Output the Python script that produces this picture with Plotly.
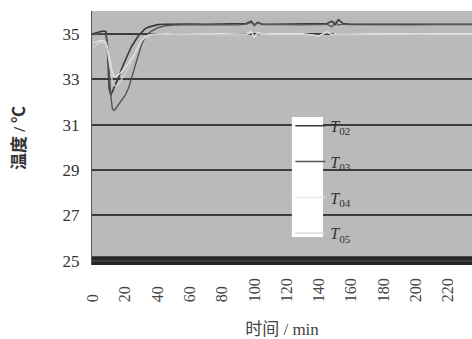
import plotly.graph_objects as go

# time in minutes
t = [0, 2, 4, 6, 8, 9, 10, 11, 12, 13, 14, 16, 18, 20, 22, 24, 26, 28, 30, 32, 34, 36, 38, 40,
     45, 50, 60, 70, 80, 90, 95, 98, 100, 102, 105, 110, 120, 130, 140, 145, 148, 150, 152, 155,
     160, 170, 180, 190, 200, 210, 220, 230, 236]

T02 = [35.0, 35.05, 35.1, 35.12, 35.1, 34.3, 32.6, 32.3, 32.45, 32.6, 32.8, 33.1, 33.5, 33.85,
       34.15, 34.45, 34.7, 34.9, 35.05, 35.2, 35.28, 35.33, 35.37, 35.4,
       35.42, 35.43, 35.43, 35.42, 35.42, 35.42, 35.45, 35.55, 35.38, 35.5, 35.42, 35.42, 35.43,
       35.42, 35.43, 35.45, 35.55, 35.4, 35.62, 35.45, 35.42, 35.42, 35.42, 35.41, 35.42, 35.42,
       35.41, 35.42, 35.42]
T03 = [34.95, 35.0, 35.02, 35.0, 34.95, 34.6, 33.4, 32.3, 31.7, 31.62, 31.7, 31.9, 32.1, 32.3,
       32.6, 33.1, 33.6, 34.1, 34.5, 34.8, 35.0, 35.1, 35.2, 35.26,
       35.35, 35.38, 35.4, 35.39, 35.4, 35.39, 35.42, 35.5, 35.36, 35.48, 35.4, 35.39, 35.4,
       35.39, 35.4, 35.42, 35.3, 35.5, 35.38, 35.42, 35.4, 35.39, 35.4, 35.4, 35.39, 35.4,
       35.4, 35.39, 35.4]
T04 = [34.6, 34.65, 34.68, 34.7, 34.65, 34.4, 34.0, 33.6, 33.3, 33.12, 33.1, 33.2, 33.35, 33.5,
       33.7, 33.9, 34.15, 34.45, 34.7, 34.85, 34.93, 34.97, 34.98, 35.0,
       35.0, 34.99, 35.0, 34.99, 35.0, 34.99, 34.98, 35.1, 34.85, 35.05, 34.99, 35.0, 34.99,
       35.0, 34.9, 35.1, 34.95, 35.0, 34.99, 35.0, 34.99, 35.0, 35.0, 34.99, 35.0, 35.0,
       34.99, 35.0, 35.0]
T05 = [34.4, 34.5, 34.6, 34.62, 34.55, 34.2, 33.7, 33.2, 32.9, 32.75, 32.7, 32.8, 33.0, 33.25,
       33.5, 33.8, 34.1, 34.4, 34.65, 34.82, 34.9, 34.95, 34.97, 34.98,
       34.97, 34.97, 34.96, 34.97, 34.96, 34.97, 34.95, 35.05, 34.9, 35.0, 34.97, 34.96, 34.97,
       34.96, 34.92, 35.05, 34.97, 34.96, 34.97, 34.96, 34.97, 34.96, 34.97, 34.96, 34.97, 34.96,
       34.97, 34.96, 34.97]

series = [("<i>T</i><sub>02</sub>", T02, "#3a3a3a", 1.6),
          ("<i>T</i><sub>03</sub>", T03, "#555555", 1.4),
          ("<i>T</i><sub>04</sub>", T04, "#e6e6e6", 1.3),
          ("<i>T</i><sub>05</sub>", T05, "#d2d2d2", 1.3)]

x_ticks = [0, 20, 40, 60, 80, 100, 120, 140, 160, 180, 200, 220]
x_ticktext = [str(v) + "\u2007" * (3 - len(str(v))) for v in x_ticks]
y_ticks = [25, 27, 29, 31, 33, 35]

fig = go.Figure()
for i, (name, vals, col, w) in enumerate(series):
    fig.add_trace(go.Scatter(x=t, y=vals, mode="lines", name=name, legendgroup=str(i),
                             line=dict(color=col, width=w)))

serif = "Liberation Serif, Noto Sans CJK SC"
fig.update_layout(
    width=472, height=339,
    margin=dict(l=92, r=0, t=11, b=74),
    paper_bgcolor="white", plot_bgcolor="#bababa",
    font=dict(family=serif, color="#333333", size=16),
    showlegend=True,
    legend=dict(x=0.522, y=0.615, xanchor="left", yanchor="top", bgcolor="rgba(0,0,0,0)",
                tracegroupgap=12, font=dict(family=serif, size=16, color="#333333")),
    xaxis=dict(range=[-0.6, 234.8], tickvals=x_ticks, ticktext=x_ticktext, tickangle=-90,
               showgrid=False, zeroline=False, showline=False, ticks="",
               ticklabelstandoff=9,
               tickfont=dict(family=serif, size=16, color="#444444"),
               title=dict(text="时间 / min", font=dict(family=serif, size=17, color="#444444"),
                          standoff=25)),
    yaxis=dict(range=[24.82, 36.0], tickvals=y_ticks, showgrid=True, gridcolor="#3c3c3c",
               gridwidth=1.6, zeroline=False, showline=True, linecolor="#555555", linewidth=1,
               ticks="", ticklabelstandoff=8,
               tickfont=dict(family=serif, size=17, color="#333333"),
               title=dict(text="<b>温度 / ℃</b>", font=dict(family=serif, size=17, color="#333333"),
                          standoff=32)),
    shapes=[
        dict(type="rect", xref="paper", yref="y", x0=0, x1=1, y0=24.82, y1=25.2,
             fillcolor="#262626", line=dict(width=0), layer="between"),
        dict(type="rect", xref="paper", yref="paper", x0=0.526, x1=0.608, y0=0.110, y1=0.583,
             fillcolor="white", line=dict(width=0), layer="above"),
    ],
)

fig.write_html("out.html")
